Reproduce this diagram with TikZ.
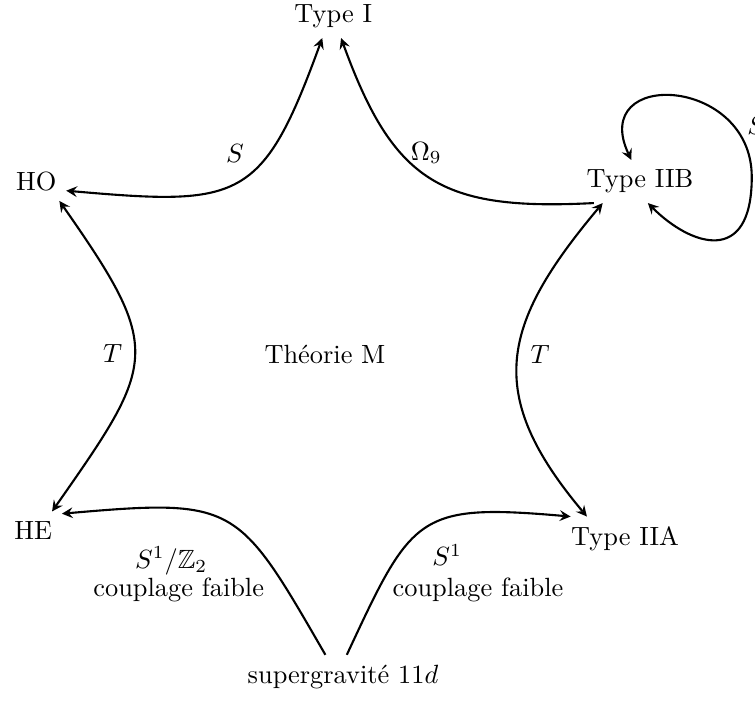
\documentclass[tikz,border=0pt]{standalone}
\usepackage{fontspec}
\usepackage{amssymb}

\begin{document}
\begin{tikzpicture}[>=stealth, thick]
            \useasboundingbox (-4.533,-4.573) rectangle (5.533,4.76);
            % les six theories
            \node (TypeI) at (-0.09,4.54) {Type I};
            \node (IIB) at (4.0,2.34) {Type IIB};
            \node (HO) at (-4.05,2.34) {HO};
            \node (HE) at (-4.09,-2.31) {HE};
            \node (IIA) at (3.8,-2.42) {Type IIA};
            \node (sugra) at (0.04,-4.26) {supergravité $11d$};
            \node (M) at (-0.2,0.04) {Théorie M};
            % dualites
            \draw[<->] (HO.-17) to[out=-5,in=-110,looseness=1.5] (TypeI.-117);
            \draw[->] (IIB.205) to[out=183,in=-70,looseness=1.3] (TypeI.-70);
            \draw[<->] (HO.-40) to[out=-55,in=55,looseness=1.5] (HE.45);
            \draw[<->] (IIB.210) to[out=-130,in=130,looseness=1.3] (IIA.150);
            \draw[->] (sugra.129) to[out=120,in=5,looseness=1.5] (HE.30);
            \draw[->] (sugra.80) to[out=65,in=175,looseness=1.5] (IIA.158);
            \coordinate (loopR) at (5.49,2.4);
            \draw[<->] (IIB.112) to[out=115,in=90,distance=1.35cm] (loopR)
                to[out=-90,in=-45,out distance=1.2cm,in distance=0.8cm] (IIB.-70);
            % etiquettes
            \node (lS) at (-1.4,2.72) {$S$};
            \node (lOmega) at (1.15,2.72) {$\Omega_9$};
            \node (lTl) at (-3.03,0.05) {$T$};
            \node (lTr) at (2.67,0.03) {$T$};
            \node (lSloop) at (5.55,3.09) {$S$};
            \node (lHE) at (-2.25,-2.72) {$S^1/\mathbb{Z}_2$};
            \node (lHEb) at (-2.15,-3.1) {couplage faible};
            \node (lIIA) at (1.43,-2.64) {$S^1$};
            \node (lIIAb) at (1.84,-3.1) {couplage faible};
        \end{tikzpicture}
\end{document}
